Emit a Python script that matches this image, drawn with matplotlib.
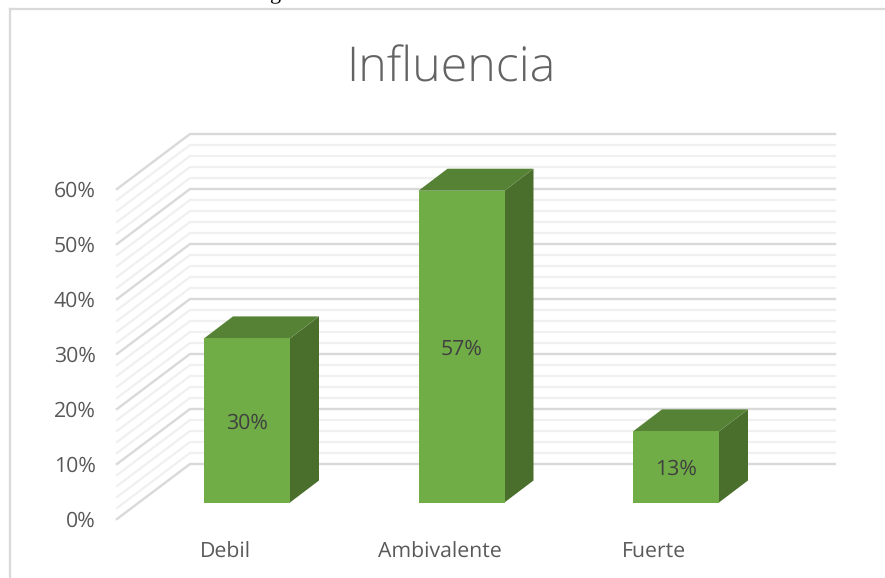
import matplotlib
matplotlib.use('Agg')
import matplotlib.pyplot as plt
from matplotlib.patches import Polygon

categories = ['Debil', 'Ambivalente', 'Fuerte']
values = [30, 57, 13]
value_labels = ['30%', '57%', '13%']
major_ticks = [0, 10, 20, 30, 40, 50, 60]
minor_ticks = [2, 4, 6, 8, 12, 14, 16, 18, 22, 24, 26, 28, 32, 34, 36, 38, 42, 44, 46, 48, 52, 54, 56, 58]

plt.rcParams['font.family'] = ['Open Sans', 'DejaVu Sans']
plt.rcParams['text.hinting'] = 'no_hinting'

W, H = 885, 578
x_step = 214.5   # px between categories
y_unit = 5.47    # px per 1%
wall_unit = 5.5 / 5.47  # the wall is drawn a touch taller than the bars
x0_px, y0_px = 247, 502.5


def dx(px):
    return px / x_step


def dy(px):
    return px / y_unit


fig = plt.figure(figsize=(W / 100, H / 100), dpi=100)
ax = fig.add_axes([0, 0, 1, 1])
ax.set_xlim(-x0_px / x_step, (W - x0_px) / x_step)
ax.set_ylim((y0_px - H) / y_unit, y0_px / y_unit)
ax.axis('off')

# outer frame of the chart
ax.plot([dx(10 - x0_px), dx(10 - x0_px)], [dy(y0_px - H), dy(y0_px - 9)], color='#D9D9D9', lw=1.6, zorder=1)
ax.plot([dx(10 - x0_px), dx(W - x0_px)], [dy(y0_px - 9), dy(y0_px - 9)], color='#D9D9D9', lw=1.6, zorder=1)

# walls: floor front edge sits under the bar base, back wall above it
front_x, back_x, right_x = dx(117 - x0_px), dx(190 - x0_px), dx(835 - x0_px)
front_y, back_y = dy(-16.5), dy(38.5)
for tick_list, col, lw in [(minor_ticks, '#F0F0F0', 1.6), (major_ticks, '#D9D9D9', 1.7)]:
    for t in tick_list:
        ax.plot([front_x, back_x, right_x], [front_y + t * wall_unit, back_y + t * wall_unit, back_y + t * wall_unit],
                color=col, lw=lw, zorder=2, solid_joinstyle='miter')

# bars
half = dx(43)
depth_x, depth_y = dx(29), dy(22)
for i, v in enumerate(values):
    ax.add_patch(Polygon([(i + half, 0), (i + half + depth_x, depth_y),
                          (i + half + depth_x, v + depth_y), (i + half, v)],
                         closed=True, fc='#4A6E2B', ec='none', zorder=3))
    ax.add_patch(Polygon([(i - half, v), (i + half, v),
                          (i + half + depth_x, v + depth_y), (i - half + depth_x, v + depth_y)],
                         closed=True, fc='#568235', ec='none', zorder=3))
    ax.bar(i, v, width=2 * half, color='#70AD47', zorder=4)
    ax.text(i, v / 2 - dy(2.5), value_labels[i], ha='center', va='center', fontsize=15.3, color='#404040', zorder=5)

# tick labels
for t in major_ticks:
    ax.text(dx(95.5 - x0_px), front_y + t * wall_unit - dy(2.5), f'{t}%', ha='right', va='center', fontsize=15.3, color='#595959')
for i, c in enumerate(categories):
    ax.text(i - dx(22), dy(-49.5), c, ha='center', va='center', fontsize=15.3, color='#595959')

ax.text(dx(451 - x0_px), dy(y0_px - 69), 'Influencia', ha='center', va='center', fontsize=34.8,
        color='#636363', fontweight='light')

# bit of the document text cut off at the top edge
ax.text(dx(275 - x0_px), dy(y0_px + 1), 'g', ha='center', va='baseline', fontsize=16,
        family='Liberation Serif', color='black')

fig.savefig('out.png', dpi=100)
